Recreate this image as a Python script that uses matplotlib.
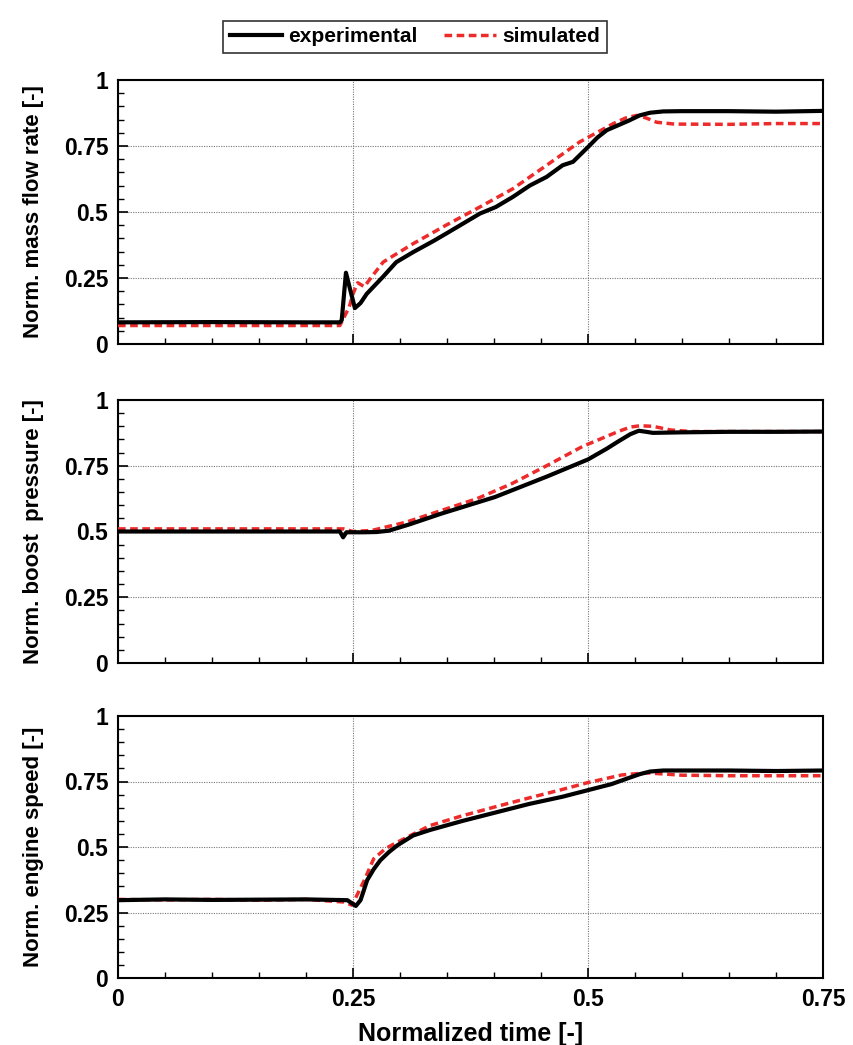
import matplotlib
matplotlib.use("Agg")
import matplotlib.pyplot as plt
from matplotlib.ticker import MultipleLocator, FixedLocator
import numpy as np

plt.rcParams['font.family'] = ['Liberation Sans', 'DejaVu Sans']
plt.rcParams['font.weight'] = 'bold'

# normalized mass flow rate
t_mf_exp = [0.0, 0.10, 0.20, 0.236, 0.238, 0.2425, 0.246, 0.252, 0.258, 0.2646, 0.282,
            0.296, 0.314, 0.3355, 0.349, 0.385, 0.402, 0.42, 0.438, 0.456, 0.473,
            0.484, 0.5, 0.51, 0.52, 0.533, 0.544, 0.555, 0.566, 0.58, 0.60, 0.65,
            0.70, 0.75]
mf_exp = [0.082, 0.083, 0.082, 0.082, 0.09, 0.27, 0.22, 0.136, 0.155, 0.19, 0.255,
          0.31, 0.348, 0.39, 0.418, 0.494, 0.519, 0.557, 0.60, 0.633, 0.677,
          0.69, 0.746, 0.782, 0.81, 0.83, 0.847, 0.866, 0.876, 0.881, 0.882, 0.882,
          0.880, 0.883]
t_mf_sim = [0.0, 0.10, 0.20, 0.236, 0.246, 0.25, 0.255, 0.262, 0.27, 0.282, 0.291,
            0.314, 0.349, 0.385, 0.42, 0.456, 0.491, 0.527, 0.54, 0.552, 0.562,
            0.573, 0.592, 0.65, 0.70, 0.75]
mf_sim = [0.07, 0.07, 0.07, 0.07, 0.14, 0.19, 0.232, 0.217, 0.255, 0.31, 0.33,
          0.38, 0.45, 0.519, 0.588, 0.677, 0.765, 0.835, 0.856, 0.866, 0.856,
          0.84, 0.833, 0.832, 0.835, 0.835]

# normalized boost pressure
t_bp_exp = [0.0, 0.10, 0.20, 0.236, 0.2395, 0.243, 0.26, 0.275, 0.288, 0.31, 0.344,
            0.401, 0.457, 0.5, 0.52, 0.532, 0.545, 0.554, 0.562, 0.569, 0.60, 0.65,
            0.70, 0.75]
bp_exp = [0.50, 0.50, 0.50, 0.50, 0.478, 0.497, 0.497, 0.498, 0.503, 0.527, 0.568,
          0.631, 0.71, 0.774, 0.815, 0.842, 0.87, 0.883, 0.879, 0.875, 0.877, 0.879,
          0.879, 0.88]
t_bp_sim = [0.0, 0.10, 0.20, 0.24, 0.25, 0.27, 0.307, 0.344, 0.382, 0.419,
            0.457, 0.494, 0.532, 0.545, 0.555, 0.569, 0.588, 0.61, 0.70, 0.75]
bp_sim = [0.51, 0.51, 0.51, 0.51, 0.50, 0.504, 0.536, 0.58, 0.625, 0.682,
          0.752, 0.823, 0.88, 0.897, 0.902, 0.90, 0.886, 0.88, 0.88, 0.88]

# normalized engine speed
t_es_exp = [0.0, 0.05, 0.10, 0.15, 0.20, 0.244, 0.253, 0.258, 0.262, 0.265, 0.272,
            0.279, 0.288, 0.297, 0.314, 0.332, 0.367, 0.402, 0.437, 0.473, 0.5,
            0.525, 0.543, 0.555, 0.566, 0.58, 0.60, 0.65, 0.70, 0.75]
es_exp = [0.297, 0.30, 0.298, 0.299, 0.30, 0.297, 0.275, 0.297, 0.34, 0.373, 0.415,
          0.449, 0.48, 0.506, 0.544, 0.565, 0.60, 0.632, 0.664, 0.692, 0.717,
          0.74, 0.763, 0.778, 0.788, 0.792, 0.792, 0.792, 0.79, 0.792]
t_es_sim = [0.0, 0.05, 0.10, 0.15, 0.20, 0.24, 0.249, 0.262, 0.272, 0.285, 0.297,
            0.332, 0.367, 0.402, 0.437, 0.473, 0.5, 0.536, 0.562, 0.60, 0.65,
            0.70, 0.75]
es_sim = [0.30, 0.298, 0.30, 0.297, 0.30, 0.29, 0.278, 0.373, 0.455, 0.495, 0.518,
          0.582, 0.62, 0.654, 0.687, 0.72, 0.746, 0.775, 0.783, 0.774, 0.772,
          0.772, 0.772]

ylabels = ['Norm. mass flow rate [-]', 'Norm. boost  pressure [-]',
           'Norm. engine speed [-]']
yticks = [0, 0.25, 0.5, 0.75, 1]
ytick_labels = ['0', '0.25', '0.5', '0.75', '1']
xticks = [0, 0.25, 0.5, 0.75]
xtick_labels = ['0', '0.25', '0.5', '0.75']

red = '#ee2b2b'

fig = plt.figure(figsize=(8.54, 10.45), dpi=100)
W, H = 854, 1045
boxes = [(80, 344), (400, 663), (716, 978)]
axes = []
for top, bottom in boxes:
    ax = fig.add_axes([118 / W, 1 - bottom / H, (823 - 118) / W, (bottom - top) / H])
    axes.append(ax)

series = [(t_mf_exp, mf_exp, t_mf_sim, mf_sim),
          (t_bp_exp, bp_exp, t_bp_sim, bp_sim),
          (t_es_exp, es_exp, t_es_sim, es_sim)]

for i, (ax, (te, ye, ts, ys)) in enumerate(zip(axes, series)):
    ax.plot(ts, ys, color=red, lw=2.5, dashes=(2.2, 1.3), zorder=3,
            label='simulated')
    ax.plot(te, ye, color='black', lw=3.0, zorder=4, label='experimental',
            solid_joinstyle='round')
    ax.set_xlim(0, 0.75)
    ax.set_ylim(0, 1)
    ax.xaxis.set_major_locator(FixedLocator(xticks))
    ax.xaxis.set_minor_locator(MultipleLocator(0.05))
    ax.yaxis.set_major_locator(FixedLocator(yticks))
    ax.yaxis.set_minor_locator(MultipleLocator(0.05))
    ax.grid(True, which='major', color='#777777', ls=(0, (1, 1.2)), lw=0.8)
    ax.tick_params(which='both', direction='in', top=False, right=False)
    ax.tick_params(which='major', length=7, width=1.2)
    ax.tick_params(which='minor', length=4, width=1.0)
    ax.set_yticklabels(ytick_labels, fontsize=16.5, fontweight='bold')
    if i < 2:
        ax.set_xticklabels([])
    else:
        ax.set_xticklabels(xtick_labels, fontsize=16.5, fontweight='bold')
        ax.set_xlabel('Normalized time [-]', fontsize=18, fontweight='bold',
                      labelpad=8)
    ax.set_ylabel(ylabels[i], fontsize=16, fontweight='bold')
    for s in ax.spines.values():
        s.set_linewidth(1.5)
    ax.tick_params(axis='both', pad=7)

for ax in axes:
    ax.yaxis.set_label_coords(-0.105, 0.5)

handles, labels = axes[0].get_legend_handles_labels()
leg = fig.legend(handles[::-1], labels[::-1], ncol=2, loc='center',
                 bbox_to_anchor=(415 / W, 1 - 37 / H),
                 frameon=True, fancybox=False, edgecolor='black',
                 handlelength=2.5, columnspacing=1.3, handletextpad=0.3,
                 borderpad=0.3, prop={'weight': 'bold', 'size': 15})
leg.get_frame().set_linewidth(1.2)

fig.savefig('out.png', dpi=100, facecolor='white')
